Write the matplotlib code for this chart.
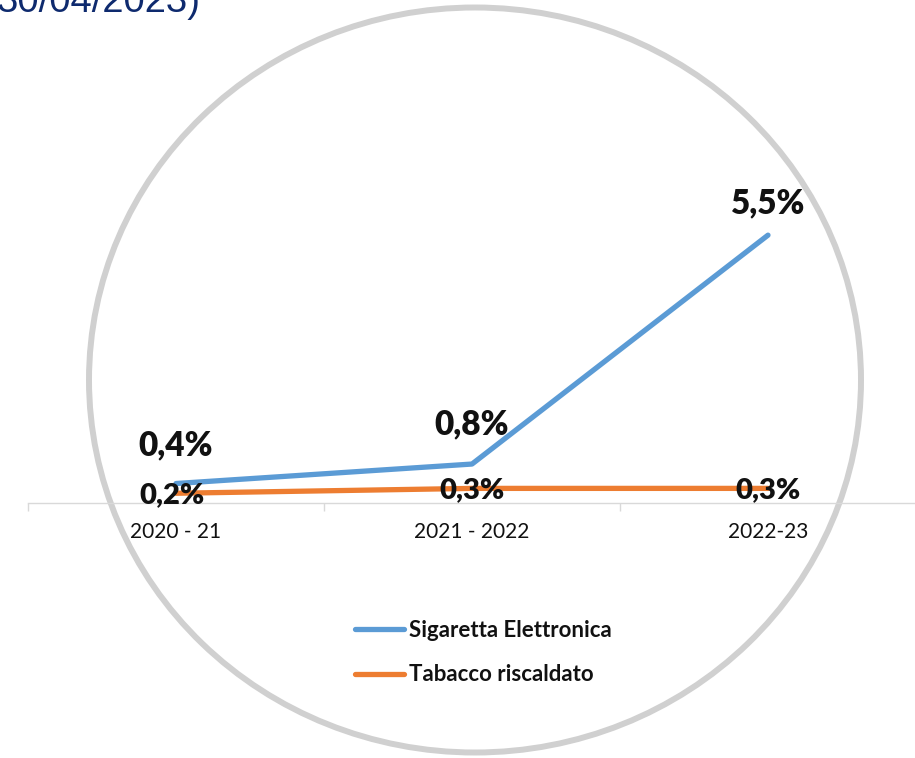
import matplotlib.pyplot as plt
from matplotlib.patches import Ellipse

# Data
anni = ['2020 - 21', '2021 - 2022', '2022-23']
sigaretta = [0.4, 0.8, 5.5]
tabacco = [0.2, 0.3, 0.3]
etichette_sig = ['0,4%', '0,8%', '5,5%']
etichette_tab = ['0,2%', '0,3%', '0,3%']

blu = '#5B9BD5'
arancio = '#ED7D31'

W, H = 915, 758
fig = plt.figure(figsize=(W / 100, H / 100), dpi=100)

# grey circle behind the chart
cerchio = Ellipse((475 / W, 1 - 380 / H), 772 / W, 745 / H,
                  transform=fig.transFigure, fill=False,
                  edgecolor='#D0D0D0', linewidth=4.3, zorder=-1)
fig.add_artist(cerchio)

# cut-off title at top-left
fig.text(201 / W, 1 - 12 / H, '30/04/2023)', ha='right', va='baseline',
         fontsize=27.5, color='#0E2A6E', family='Liberation Sans')

ax = fig.add_axes([28 / W, 1 - 503 / H, 888 / W, 6 * 48.7 / H])
ax.patch.set_visible(False)

x = range(len(anni))
ax.plot(x, sigaretta, color=blu, lw=3.8, solid_capstyle='round',
        label='Sigaretta Elettronica', zorder=3)
ax.plot(x, tabacco, color=arancio, lw=3.8, solid_capstyle='round',
        label='Tabacco riscaldato', zorder=2)

ax.set_xlim(-0.5, 2.5)
ax.set_ylim(0, 6)

# data labels
off_sig = [38, 40, 32]
for i, (v, t) in enumerate(zip(sigaretta, etichette_sig)):
    ax.annotate(t, (i, v), xytext=(0, off_sig[i]), textcoords='offset pixels',
                ha='center', va='center', fontsize=24, fontweight='heavy',
                family='Lato', color='#111111', zorder=5)
for i, (v, t) in enumerate(zip(tabacco, etichette_tab)):
    ax.annotate(t, (i, v), xytext=(-4 if i == 0 else 0, -2),
                textcoords='offset pixels', ha='center', va='center',
                fontsize=21, fontweight='heavy', family='Lato',
                color='#111111', zorder=5)

for s in ['top', 'left', 'right']:
    ax.spines[s].set_visible(False)
ax.spines['bottom'].set_color('#D9D9D9')
ax.spines['bottom'].set_linewidth(1)
ax.set_yticks([])

ax.set_xticks(list(x))
ax.set_xticklabels(anni, family='Lato', fontsize=15, color='#111111')
ax.tick_params(axis='x', which='major', length=0, pad=14)
ax.set_xticks([-0.5, 0.5, 1.5, 2.5], minor=True)
ax.tick_params(axis='x', which='minor', length=6, color='#D9D9D9', width=1)

leg = ax.legend(loc='upper left', bbox_to_anchor=(355 / W, 1 - 620 / H),
                bbox_transform=fig.transFigure, frameon=False,
                prop={'family': 'Lato', 'weight': 'bold', 'size': 16},
                handlelength=2.2, handletextpad=0.22, labelspacing=1.05,
                borderaxespad=0, borderpad=0)
for t in leg.get_texts():
    t.set_color('#111111')

plt.savefig('out.png', dpi=100)
